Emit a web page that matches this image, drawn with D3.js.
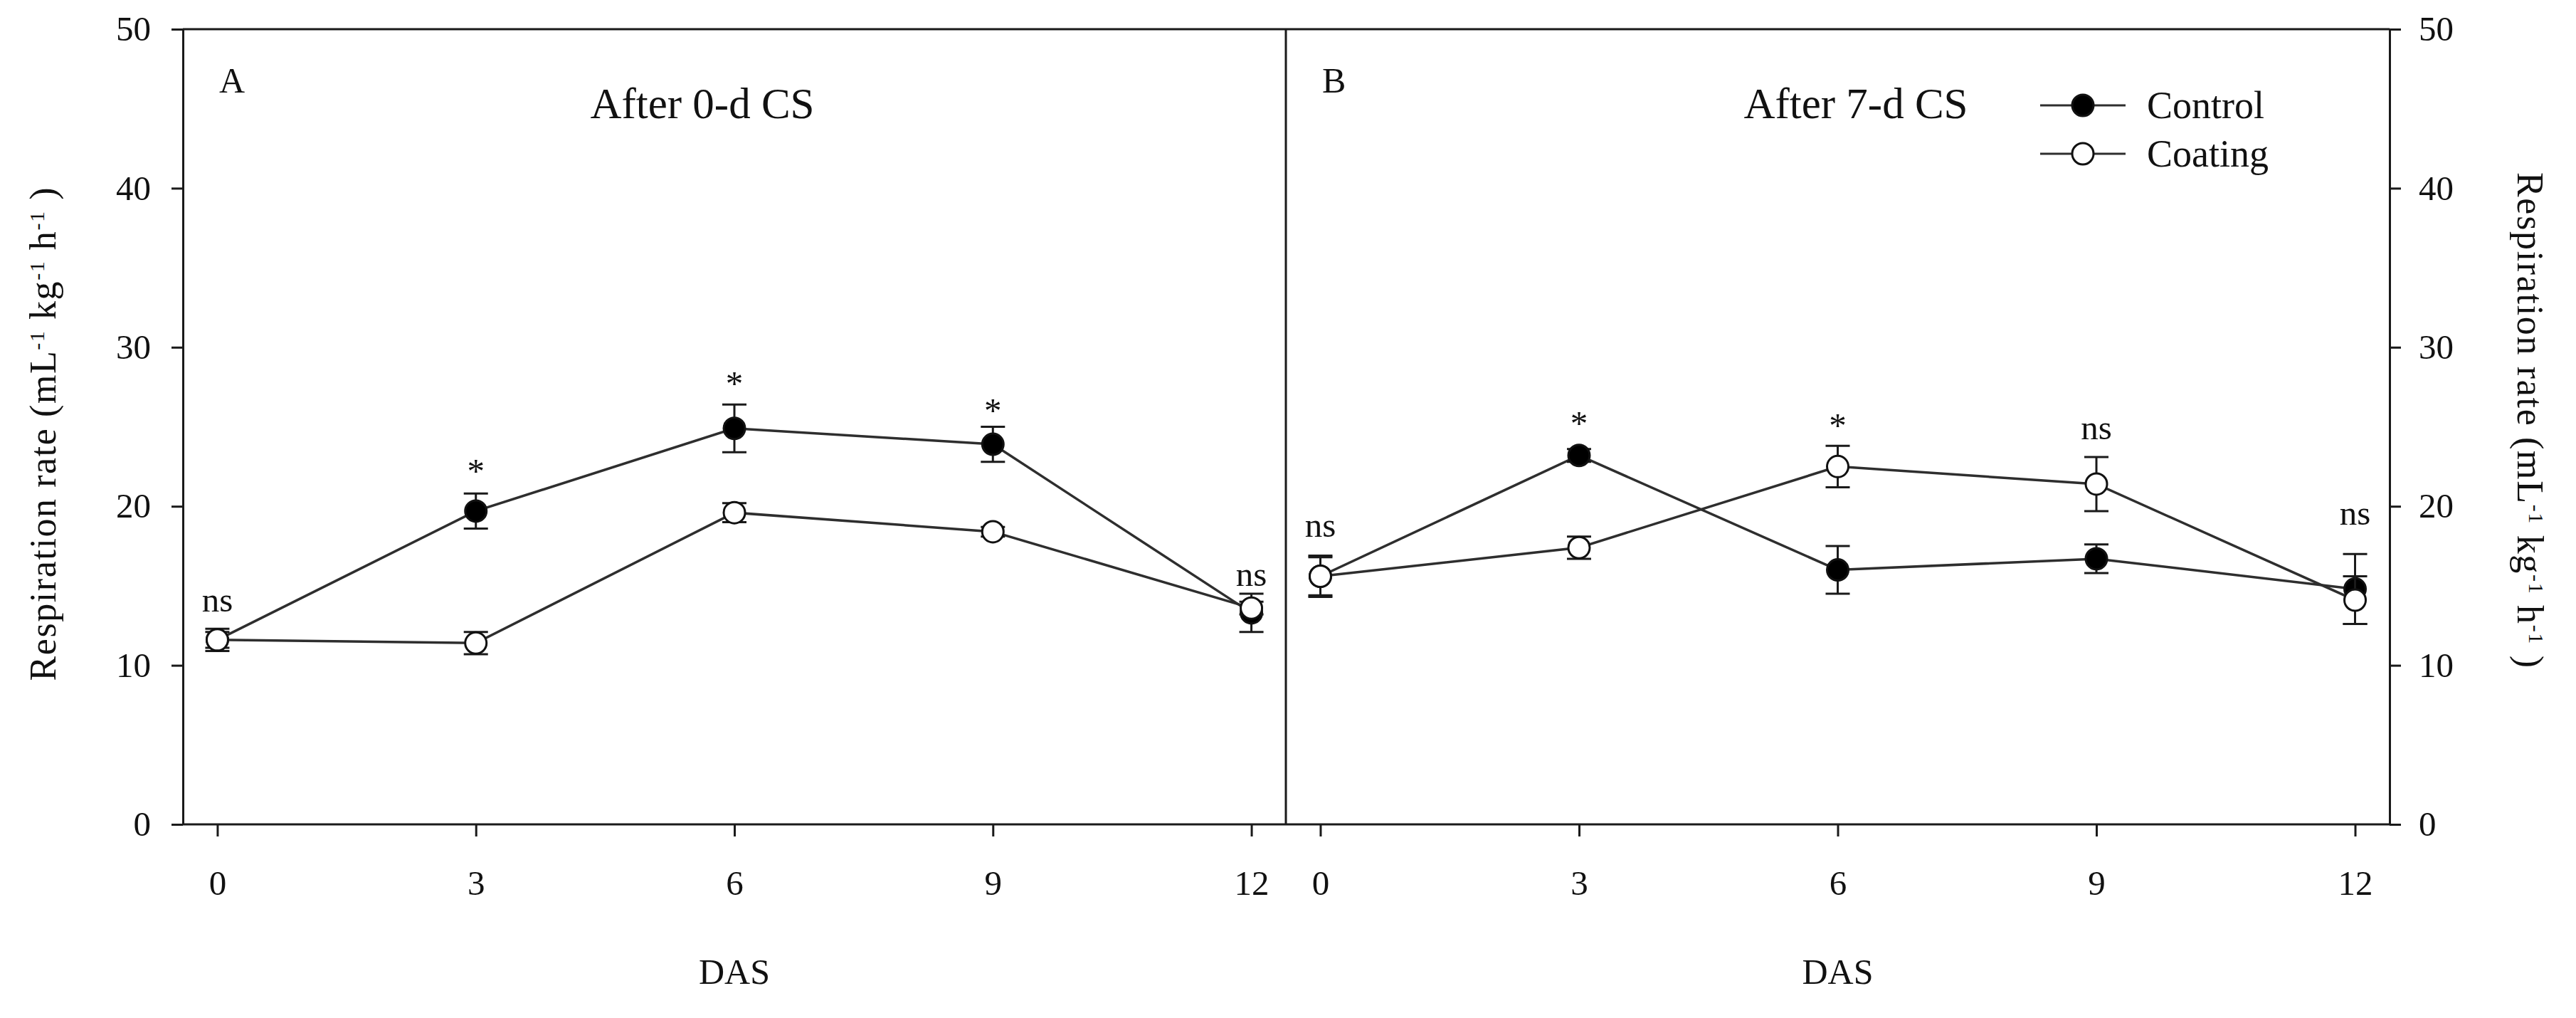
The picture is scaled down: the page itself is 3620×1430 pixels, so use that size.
<!DOCTYPE html>
<html>
<head>
<meta charset="utf-8">
<script src="https://cdn.jsdelivr.net/npm/d3@7"></script>
<style>
  body { margin: 0; background: #fff; }
  svg { display: block; font-family: 'Liberation Serif', 'Times New Roman', serif; }
</style>
</head>
<body>
<svg id="chart" width="3620" height="1430"></svg>
<script>
// days after storage (x) and y ticks
const days = [0, 3, 6, 9, 12]
const yTicks = [0, 10, 20, 30, 40, 50]

// panel A: after 0-d CS
const controlA = [11.6, 19.7, 24.9, 23.9, 13.3]
const controlAErr = [0.7, 1.1, 1.5, 1.1, 1.2]
const coatingA = [11.6, 11.4, 19.6, 18.4, 13.6]
const coatingAErr = [0.5, 0.7, 0.6, 0.3, 0.4]
const sigA = ['ns', '*', '*', '*', 'ns']
const sigAtA = [13.4, 21.5, 27.0, 25.3, 15.0]

// panel B: after 7-d CS
const controlB = [15.6, 23.2, 16.0, 16.7, 14.8]
const controlBErr = [1.3, 0.4, 1.5, 0.9, 2.2]
const coatingB = [15.6, 17.4, 22.5, 21.4, 14.1]
const coatingBErr = [1.2, 0.7, 1.3, 1.7, 1.5]
const sigB = ['ns', '*', '*', 'ns', 'ns']
const sigAtB = [18.1, 24.5, 24.35, 24.2, 18.85]

const seriesNames = ['Control', 'Coating']

const svg = d3.select('#chart')
const plotTop = 41, plotBottom = 1158
const ink = '#1a1a1a', lineInk = '#2e2e2e'

const y = d3.scaleLinear().domain([0, 50]).range([plotBottom, plotTop])

const panels = [
  { label: 'A', title: 'After 0-d CS', x0: 257, x1: 1807,
    series: [[controlA, controlAErr], [coatingA, coatingAErr]], sig: sigA, sigAt: sigAtA },
  { label: 'B', title: 'After 7-d CS', x0: 1807, x1: 3358,
    series: [[controlB, controlBErr], [coatingB, coatingBErr]], sig: sigB, sigAt: sigAtB }
]
panels.forEach(p => {
  p.x = d3.scaleLinear().domain([-0.4, 12.4]).range([p.x0, p.x1])
})

const styleAxis = g => {
  g.attr('font-family', null).attr('font-size', null)
  g.selectAll('.domain').attr('stroke', ink).attr('stroke-width', 3)
  g.selectAll('.tick line').attr('stroke', ink).attr('stroke-width', 3)
  g.selectAll('.tick text').attr('fill', '#111').style('font-size', '49px')
}

// y axes, left and right
svg.append('g')
  .attr('transform', `translate(${panels[0].x0},0)`)
  .call(d3.axisLeft(y).tickValues(yTicks).tickSize(16).tickSizeOuter(0).tickPadding(29))
  .call(styleAxis)
svg.append('g')
  .attr('transform', `translate(${panels[1].x1},0)`)
  .call(d3.axisRight(y).tickValues(yTicks).tickSize(16).tickSizeOuter(0).tickPadding(25))
  .call(styleAxis)

// frame: top, bottom, divider
const frame = svg.append('g').attr('stroke', ink).attr('stroke-width', 3)
frame.append('line')
  .attr('x1', panels[0].x0).attr('x2', panels[1].x1)
  .attr('y1', y(50)).attr('y2', y(50))
frame.append('line')
  .attr('x1', panels[0].x0).attr('x2', panels[1].x1)
  .attr('y1', y(0)).attr('y2', y(0))
frame.append('line')
  .attr('x1', panels[1].x0).attr('x2', panels[1].x0)
  .attr('y1', y(50)).attr('y2', y(0))

panels.forEach(p => {
  const g = svg.append('g')

  g.append('g')
    .attr('transform', `translate(0,${plotBottom})`)
    .call(d3.axisBottom(p.x).tickValues(days).tickSize(17).tickSizeOuter(0).tickPadding(47))
    .call(styleAxis)
    .call(a => a.select('.domain').remove())

  const line = d3.line().x((d, i) => p.x(days[i])).y(d => y(d))

  p.series.forEach(([vals]) => {
    g.append('path')
      .datum(vals)
      .attr('d', line)
      .attr('fill', 'none')
      .attr('stroke', lineInk)
      .attr('stroke-width', 3.5)
  })

  p.series.forEach(([vals, errs], s) => {
    const eb = g.append('g').attr('stroke', ink).attr('stroke-width', 3)
    vals.forEach((v, i) => {
      const cx = p.x(days[i])
      const lo = y(v - errs[i]), hi = y(v + errs[i])
      eb.append('line').attr('x1', cx).attr('x2', cx).attr('y1', lo).attr('y2', hi)
      eb.append('line').attr('x1', cx - 17).attr('x2', cx + 17).attr('y1', lo).attr('y2', lo)
      eb.append('line').attr('x1', cx - 17).attr('x2', cx + 17).attr('y1', hi).attr('y2', hi)
    })
    g.append('g').selectAll('circle')
      .data(vals)
      .join('circle')
      .attr('cx', (d, i) => p.x(days[i]))
      .attr('cy', d => y(d))
      .attr('r', 15)
      .attr('fill', s === 0 ? '#000' : '#fff')
      .attr('stroke', '#111')
      .attr('stroke-width', 3)
  })

  g.selectAll('text.sig')
    .data(p.sig)
    .join('text')
    .attr('class', 'sig')
    .attr('x', (d, i) => p.x(days[i]))
    .attr('y', (d, i) => y(p.sigAt[i]))
    .attr('text-anchor', 'middle')
    .attr('font-size', 49)
    .attr('fill', '#111')
    .text(d => d)

  g.append('text')
    .attr('x', p.x0 + 51)
    .attr('y', 130)
    .attr('font-size', 50)
    .attr('fill', '#111')
    .text(p.label)

  g.append('text')
    .attr('x', p.label === 'A' ? 987 : 2608)
    .attr('y', 166)
    .attr('text-anchor', 'middle')
    .attr('font-size', 61)
    .attr('fill', '#111')
    .text(p.title)

  g.append('text')
    .attr('x', p.x(6))
    .attr('y', 1382)
    .attr('text-anchor', 'middle')
    .attr('font-size', 50)
    .attr('fill', '#111')
    .text('DAS')
})

// legend
const legend = svg.append('g').attr('transform', 'translate(2867,148)')
seriesNames.forEach((name, s) => {
  const row = legend.append('g').attr('transform', `translate(0,${s * 68})`)
  row.append('line').attr('x1', 0).attr('x2', 120).attr('stroke', lineInk).attr('stroke-width', 3)
  row.append('circle').attr('cx', 60).attr('r', 15)
    .attr('fill', s === 0 ? '#000' : '#fff').attr('stroke', '#111').attr('stroke-width', 3)
  row.append('text').attr('x', 150).attr('y', 18)
    .attr('font-size', 54).attr('fill', '#111').text(name)
})

// axis titles with superscripts
const axisTitle = (x, yc, angle, len) => {
  const t = svg.append('text')
    .attr('transform', `translate(${x},${yc}) rotate(${angle})`)
    .attr('text-anchor', 'middle')
    .attr('font-size', 52)
    .attr('fill', '#111')
    .attr('textLength', len)
    .attr('lengthAdjust', 'spacing')
  const parts = [['Respiration rate (mL', 0], ['-1', 1], [' kg', 0], ['-1', 1], [' h', 0], ['-1', 1], [' )', 0]]
  parts.forEach(([txt, sup]) => {
    t.append('tspan')
      .attr('font-size', sup ? 30 : 52)
      .attr('baseline-shift', sup ? '55%' : null)
      .text(txt)
  })
}
axisTitle(78, 610, -90, 693)
axisTitle(3538, 590, 90, 696)
</script>
</body>
</html>
